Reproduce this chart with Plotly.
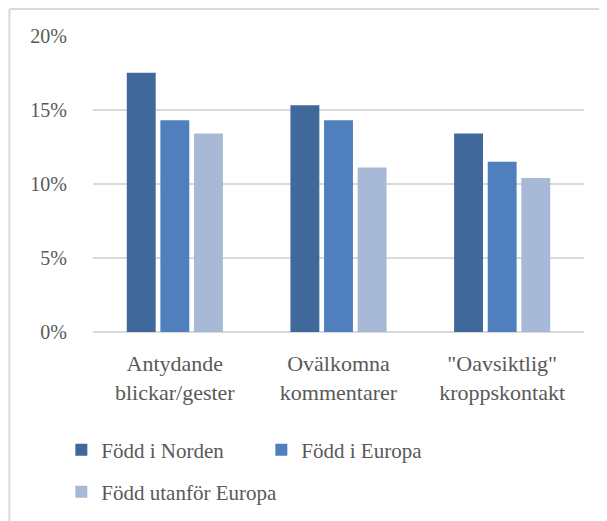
import plotly.graph_objects as go

categories = ["Antydande<br>blickar/gester", "Ovälkomna<br>kommentarer", "\"Oavsiktlig\"<br>kroppskontakt"]
series_names = ["Född i Norden", "Född i Europa", "Född utanför Europa"]
norden = [0.175, 0.153, 0.134]
europa = [0.143, 0.143, 0.115]
utanfor = [0.134, 0.111, 0.104]
colors = ["#41689B", "#4F80BD", "#A8B9D8"]
y_ticks = [0, 0.05, 0.10, 0.15, 0.20]
legend_ids = ["legend", "legend", "legend2"]

FONT = "Liberation Serif"

fig = go.Figure()
for name, vals, col, lg in zip(series_names, [norden, europa, utanfor], colors, legend_ids):
    fig.add_trace(go.Bar(x=categories, y=vals, name=name, legend=lg,
                         marker=dict(color=col, line=dict(width=0))))

W, H = 607, 521
OFF = 8  # page body margin
SL, SR, ST, SB = 92.7, 584.3, 35, 332
L, T = SL - OFF, ST - OFF
pw, ph = SR - SL, SB - ST
R, B = W - L - pw, H - T - ph

def px(x):
    return (x - SL) / pw

def py(y):
    return (SB - y) / ph

border = "#D9D9D9"
legend_common = dict(orientation="h", xanchor="left", yanchor="middle",
                     font=dict(size=21, color="#595959", family=FONT), itemwidth=30,
                     entrywidthmode="pixels", traceorder="normal",
                     bgcolor="rgba(0,0,0,0)")
fig.update_layout(
    width=W, height=H,
    margin=dict(l=L, r=R, t=T, b=B, autoexpand=False),
    paper_bgcolor="white", plot_bgcolor="white",
    barmode="group", bargap=0.384, bargroupgap=0.14,
    font=dict(family=FONT, color="#595959", size=20),
    xaxis=dict(showgrid=False, showline=False, zeroline=False, automargin=False,
               tickfont=dict(size=22, color="#595959", family=FONT),
               ticks="outside", ticklen=12, tickcolor="rgba(0,0,0,0)"),
    yaxis=dict(range=[0, 0.2005], tickvals=y_ticks, tickformat=".0%", automargin=False,
               showgrid=True, gridcolor=border, gridwidth=1.5,
               zeroline=True, zerolinecolor=border, zerolinewidth=1.5,
               showline=False, tickfont=dict(size=20, color="#595959", family=FONT),
               ticks="outside", ticklen=21, tickcolor="rgba(0,0,0,0)"),
    legend=dict(x=px(61), y=py(450), entrywidth=155, **legend_common),
    legend2=dict(x=px(61), y=py(492), entrywidth=250, **legend_common),
    showlegend=True,
    shapes=[
        dict(type="line", xref="paper", yref="paper", x0=px(9), x1=px(W + 20), y0=py(9), y1=py(9),
             line=dict(color=border, width=2)),
        dict(type="line", xref="paper", yref="paper", x0=px(9), x1=px(9), y0=py(9), y1=py(H + 20),
             line=dict(color=border, width=2)),
    ],
)

fig.write_html("out.html")
